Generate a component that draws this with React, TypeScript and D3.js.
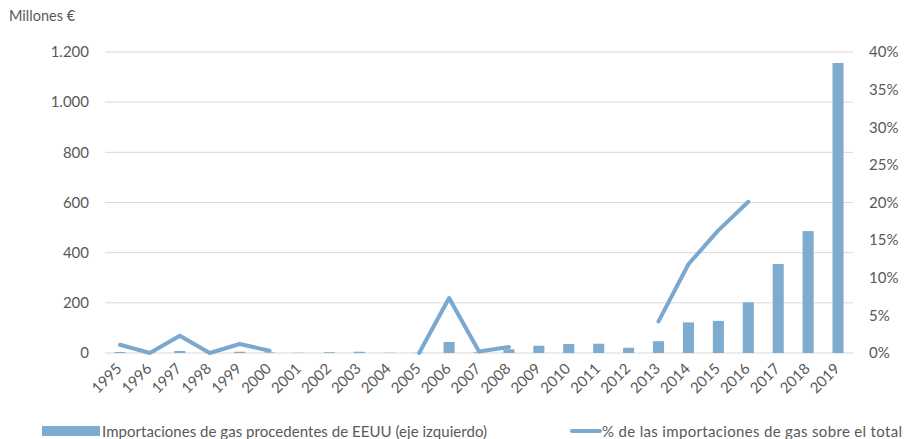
import React from "react";
import * as d3 from "d3";

const years: string[] = [
  "1995","1996","1997","1998","1999","2000","2001","2002","2003","2004",
  "2005","2006","2007","2008","2009","2010","2011","2012","2013","2014",
  "2015","2016","2017","2018","2019",
];
// Millones € (left axis)
const imports: number[] = [
  4, 1, 8, 1, 5, 2, 1, 3, 5, 1,
  1, 44, 3, 15, 29, 36, 37, 21, 47, 122,
  128, 202, 355, 486, 1156,
];
// share of total gas imports (right axis), null = gap
const share: (number | null)[] = [
  0.011, 0.0, 0.023, 0.0, 0.012, 0.003, null, null, null, null,
  0.0, 0.073, 0.002, 0.008, null, null, null, null, 0.042, 0.118,
  0.163, 0.201, null, null, 0.358,
];
const leftTicks: number[] = [0, 200, 400, 600, 800, 1000, 1200];
const rightTicks: number[] = [0, 0.05, 0.1, 0.15, 0.2, 0.25, 0.3, 0.35, 0.4];
const barLabel = "Importaciones de gas procedentes de EEUU (eje izquierdo)";
const lineLabel = "% de las importaciones de gas sobre el total";
const unitLabel = "Millones €";

const W = 908;
const H = 439;
const FONT = "Lato, 'Liberation Sans', Arial, sans-serif";
const TXT = "#595959";
const BAR = "#7EABD0";
const LINE = "#7AA8CE";

export default function App() {
  const x = d3
    .scaleBand<string>()
    .domain(years)
    .range([105, 853])
    .paddingInner(0.63)
    .paddingOuter(0.315);
  const yL = d3.scaleLinear().domain([0, 1200]).range([353, 52]);
  const yR = d3.scaleLinear().domain([0, 0.4]).range([353, 52]);
  const cx = (y: string) => (x(y) ?? 0) + x.bandwidth() / 2;

  const line = d3
    .line<number | null>()
    .defined((d) => d != null)
    .x((_, i) => cx(years[i]))
    .y((d) => yR(d as number));

  const fmtL = (v: number) => d3.format(",")(v).replace(/,/g, ".");
  const fmtR = d3.format(".0%");

  const isolated = share
    .map((v, i) => ({ v, i }))
    .filter(
      ({ v, i }) =>
        v != null && (i === 0 || share[i - 1] == null) && (i === share.length - 1 || share[i + 1] == null)
    );

  return (
    <svg
      width={W}
      height={H}
      style={{ position: "absolute", left: 0, top: 0, background: "#fff" }}
      fontFamily={FONT}
    >
      <text x={9} y={21} fontSize={14.5} fill={TXT}>
        {unitLabel}
      </text>
      {leftTicks.map((t) => (
        <line key={t} x1={105} x2={853} y1={yL(t)} y2={yL(t)} stroke="#D9D9D9" strokeWidth={1} />
      ))}
      {leftTicks.map((t) => (
        <text key={t} x={89} y={yL(t)} dy="0.35em" textAnchor="end" fontSize={15} fill={TXT}>
          {fmtL(t)}
        </text>
      ))}
      {rightTicks.map((t) => (
        <text key={t} x={869} y={yR(t)} dy="0.35em" textAnchor="start" fontSize={15} fill={TXT}>
          {fmtR(t)}
        </text>
      ))}
      <path
        d={line(share) ?? ""}
        fill="none"
        stroke={LINE}
        strokeWidth={4}
        strokeLinejoin="round"
        strokeLinecap="round"
      />
      {isolated.map(({ v, i }) => (
        <circle key={i} cx={cx(years[i])} cy={yR(v as number)} r={2.5} fill={LINE} />
      ))}
      {imports.map((v, i) => (
        <rect
          key={years[i]}
          x={x(years[i])}
          y={yL(v)}
          width={x.bandwidth()}
          height={yL(0) - yL(v)}
          fill={BAR}
        />
      ))}
      {years.map((y) => (
        <text
          key={y}
          transform={`translate(${cx(y) - 1},${366}) rotate(-45)`}
          textAnchor="end"
          dy="0.35em"
          fontSize={15}
          fill={TXT}
        >
          {y}
        </text>
      ))}
      <rect x={42} y={426} width={58} height={10} fill={BAR} />
      <text x={102} y={436.5} fontSize={15} fill={TXT} textLength={385} lengthAdjust="spacing">
        {barLabel}
      </text>
      <line x1={572} x2={600} y1={431} y2={431} stroke={LINE} strokeWidth={4} strokeLinecap="round" />
      <text x={602} y={436.5} fontSize={15} fill={TXT} textLength={300} lengthAdjust="spacing">
        {lineLabel}
      </text>
    </svg>
  );
}
